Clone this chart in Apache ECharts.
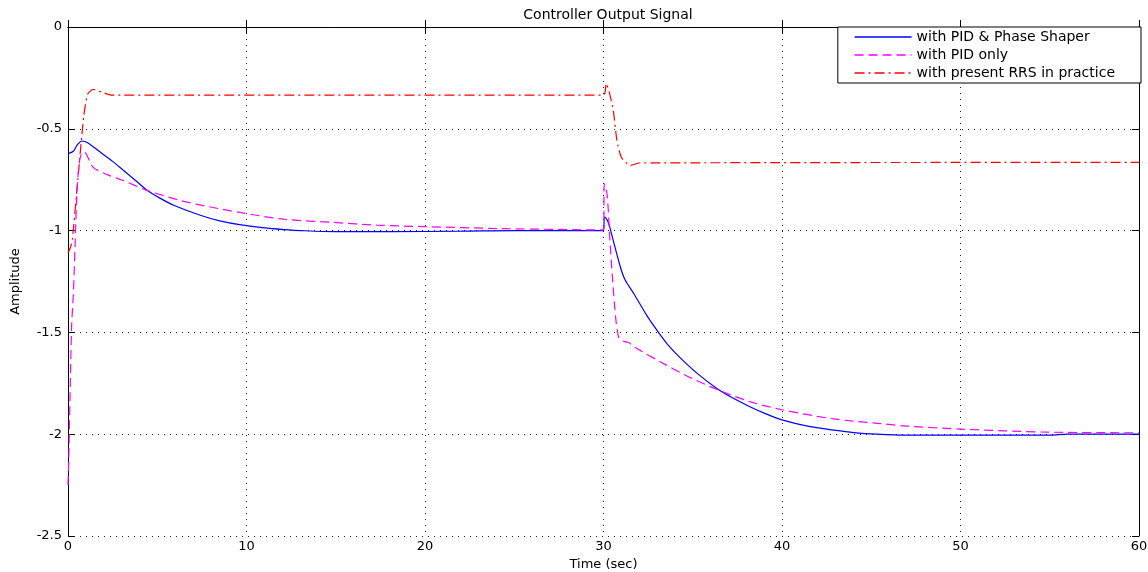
<!DOCTYPE html>
<html>
<head>
<meta charset="utf-8">
<script src="https://cdn.jsdelivr.net/npm/echarts@6/dist/echarts.min.js"></script>
<style>
html,body{margin:0;padding:0;background:#fff;}
#chart{width:1148px;height:572px;}
</style>
</head>
<body>
<div id="chart"></div>
<script>
// ---- data ----
const chartTitle = 'Controller Output Signal';
const xLabel = 'Time (sec)';
const yLabel = 'Amplitude';
const seriesNames = ['with PID & Phase Shaper', 'with PID only', 'with present RRS in practice'];

const tBlue = [0, 0.3, 0.55, 0.8, 1.1, 1.8, 2.5, 3.1, 3.8, 4.45, 5.2, 5.95, 7.45, 8.5, 9.7, 11, 12.1, 13.05, 15, 18, 22, 25, 30.0,
  30.05, 30.15, 30.3, 30.5, 30.95, 31.2, 31.7, 32.45, 33.0, 33.6, 34.3, 35.3, 36.35, 37.3, 38.2, 39.1, 40.0, 41.5, 42.9, 44, 45.3, 47, 50, 55, 56, 60];
const vBlue = [-0.622, -0.61, -0.575, -0.56, -0.568, -0.614, -0.66, -0.704, -0.755, -0.803, -0.843, -0.877, -0.926, -0.952, -0.972, -0.987, -0.995, -1.0, -1.005, -1.005, -1.003, -1.0, -1.0,
  -0.934, -0.94, -0.967, -1.033, -1.18, -1.24, -1.31, -1.42, -1.49, -1.56, -1.625, -1.705, -1.775, -1.825, -1.865, -1.90, -1.93, -1.962, -1.98, -1.992, -2.0, -2.005, -2.005, -2.005, -2.0, -2.0];

const tMag = [0, 0.05, 0.2, 0.3, 0.4, 0.5, 0.65, 0.85, 1.0, 1.4, 2.2, 3.1, 4.45, 6.3, 7.45, 9.7, 12.1, 14.9, 17.3, 19.85, 24.2, 30.0,
  30.05, 30.2, 30.35, 30.5, 30.7, 30.85, 31.0, 31.4, 31.7, 33.2, 34.7, 36.35, 38.2, 40, 42.9, 45.5, 47, 50, 54.9, 60];
const vMag = [-2.25, -2.1, -1.476, -1.31, -1.065, -0.82, -0.655, -0.615, -0.62, -0.688, -0.725, -0.754, -0.803, -0.852, -0.875, -0.912, -0.944, -0.96, -0.973, -0.98, -0.99, -0.997,
  -0.77, -0.82, -1.033, -1.23, -1.443, -1.525, -1.54, -1.55, -1.57, -1.645, -1.715, -1.78, -1.84, -1.88, -1.925, -1.948, -1.96, -1.975, -1.99, -1.993];

const tRed = [0, 0.15, 0.25, 0.55, 0.88, 1.1, 1.4, 1.9, 2.45, 30.0, 30.15, 30.35, 30.55, 30.75, 31.0, 31.5, 32, 60];
const vRed = [-1.11, -1.08, -1.04, -0.75, -0.44, -0.33, -0.307, -0.32, -0.335, -0.335, -0.277, -0.33, -0.41, -0.556, -0.64, -0.68, -0.668, -0.665];

const xTicks = [0, 10, 20, 30, 40, 50, 60];
const yTicks = [-2.5, -2, -1.5, -1, -0.5, 0];

// ---- chart ----
const pairs = (t, v) => t.map((x, i) => [x, v[i]]);
const FONT = 'DejaVu Sans';
const COLORS = ['#0000ff', '#ff00ff', '#ff0000'];
const DASHES = ['solid', [9, 5], [10, 4, 2, 4]];
const chart = echarts.init(document.getElementById('chart'));
const tickLen = 7;
chart.setOption({
  backgroundColor: '#ffffff',
  animation: false,
  title: {
    text: chartTitle, left: 603, top: 3, textAlign: 'center',
    textStyle: {fontFamily: FONT, fontSize: 14, fontWeight: 'normal', color: '#000'}
  },
  legend: {
    orient: 'vertical', right: 7, top: 27,
    padding: [3, 26, 3, 16], itemGap: 4, itemWidth: 57, itemHeight: 14,
    backgroundColor: '#fff', borderColor: '#000', borderWidth: 1, borderRadius: 0,
    itemStyle: {opacity: 0},
    lineStyle: {width: 1.5},
    textStyle: {fontFamily: FONT, fontSize: 14, color: '#000'},
    data: seriesNames
  },
  grid: {left: 68, right: 9, top: 27, bottom: 36, containLabel: false, outerBoundsMode: 'none'},
  xAxis: [{
    type: 'value', min: xTicks[0], max: xTicks[xTicks.length - 1], interval: 10,
    name: xLabel, nameLocation: 'middle', nameGap: 20,
    nameTextStyle: {fontFamily: FONT, fontSize: 13, color: '#000'},
    axisLine: {show: true, lineStyle: {color: '#000', width: 1}},
    axisTick: {show: true, inside: true, length: tickLen, lineStyle: {color: '#000'}},
    axisLabel: {fontFamily: FONT, fontSize: 13, color: '#000', margin: 4},
    splitLine: {show: true, lineStyle: {color: '#222', type: [1, 5], width: 1}}
  }, {
    type: 'value', position: 'top', min: 0, max: 60, interval: 10,
    axisLine: {show: true, onZero: false, lineStyle: {color: '#000', width: 1}},
    axisTick: {show: true, inside: true, length: tickLen, lineStyle: {color: '#000'}},
    axisLabel: {show: false}, splitLine: {show: false}
  }],
  yAxis: [{
    type: 'value', min: yTicks[0], max: yTicks[yTicks.length - 1], interval: 0.5,
    name: yLabel, nameLocation: 'middle', nameGap: 46, nameRotate: 90,
    nameTextStyle: {fontFamily: FONT, fontSize: 13, color: '#000'},
    axisLine: {show: true, onZero: false, lineStyle: {color: '#000', width: 1}},
    axisTick: {show: true, inside: true, length: tickLen, lineStyle: {color: '#000'}},
    axisLabel: {fontFamily: FONT, fontSize: 13, color: '#000', margin: 6},
    splitLine: {show: true, lineStyle: {color: '#222', type: [1, 5], width: 1}}
  }, {
    type: 'value', position: 'right', min: -2.5, max: 0, interval: 0.5,
    axisLine: {show: true, onZero: false, lineStyle: {color: '#000', width: 1}},
    axisTick: {show: true, inside: true, length: tickLen, lineStyle: {color: '#000'}},
    axisLabel: {show: false}, splitLine: {show: false}
  }],
  series: [{
    name: seriesNames[0], type: 'line', data: pairs(tBlue, vBlue),
    showSymbol: false, symbol: 'none', smooth: 0.3, z: 3,
    lineStyle: {color: COLORS[0], width: 1.2, type: DASHES[0]}, itemStyle: {color: COLORS[0]}
  }, {
    name: seriesNames[1], type: 'line', data: pairs(tMag, vMag),
    showSymbol: false, symbol: 'none', smooth: 0.3, z: 4,
    lineStyle: {color: COLORS[1], width: 1.2, type: DASHES[1]}, itemStyle: {color: COLORS[1]}
  }, {
    name: seriesNames[2], type: 'line', data: pairs(tRed, vRed),
    showSymbol: false, symbol: 'none', smooth: 0.2, z: 2,
    lineStyle: {color: COLORS[2], width: 1.2, type: DASHES[2]}, itemStyle: {color: COLORS[2]}
  }]
});
</script>
</body>
</html>
